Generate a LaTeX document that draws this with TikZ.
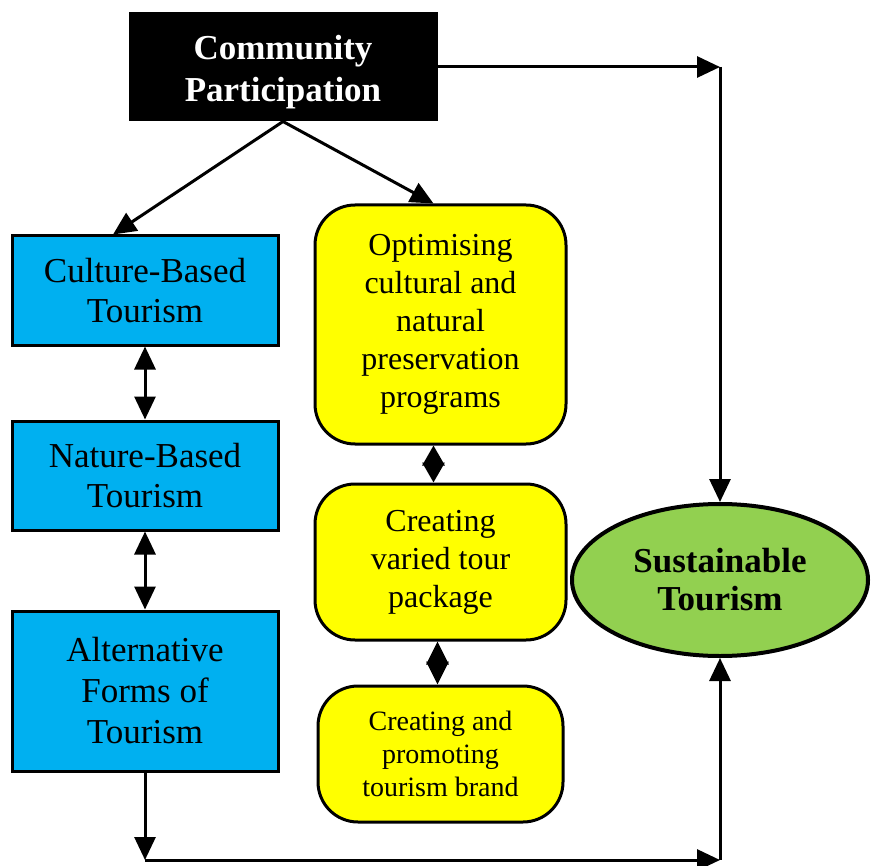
\documentclass[tikz,border=0pt]{standalone}
\usepackage{fontspec}
\setmainfont{Liberation Serif}
\usetikzlibrary{arrows.meta,shapes.geometric}
\definecolor{boxblue}{HTML}{00B0F0}
\definecolor{boxyellow}{HTML}{FFFF00}
\definecolor{ovalgreen}{HTML}{92D050}
\begin{document}
\begin{tikzpicture}[x=1pt,y=-1pt,
  line width=3pt,
  arr/.style={-{Triangle[length=23pt,width=21pt]}},
  dblarr/.style={{Triangle[length=23pt,width=21pt]}-{Triangle[length=23pt,width=21pt]}},
  diam/.style={{Triangle[length=#1,width=22pt]}-{Triangle[length=#1,width=22pt]}},
  headbox/.style={draw=black,fill=black,inner sep=0pt},
  headtext/.style={text=white,inner sep=0pt,align=center,
    font=\fontsize{35}{42}\selectfont\bfseries},
  bluebox/.style={draw=black,fill=boxblue,inner sep=0pt,align=center,
    minimum width=266pt,font=\fontsize{35}{40}\selectfont},
  yellowbox/.style={draw=black,fill=boxyellow,rounded corners=40pt,inner sep=0pt,align=center,
    font=\fontsize{32}{38}\selectfont},
  goal/.style={ellipse,draw=black,line width=4pt,fill=ovalgreen,inner sep=0pt,align=center,
    minimum width=296pt,minimum height=152pt,font=\fontsize{35}{38}\selectfont\bfseries}
]
\useasboundingbox (0,0) rectangle (880,866);

% header
\node[headbox,minimum width=306pt,minimum height=106pt,
  label={[headtext,yshift=-5pt]center:Community\\Participation}] (comm) at (283,67) {};

% left column
\node[bluebox,minimum height=109pt] (culture) at (145,290.5) {Culture-Based\\Tourism};
\node[bluebox,minimum height=109pt] (nature) at (145,475.5) {Nature-Based\\Tourism};
\node[bluebox,minimum height=160pt,font=\fontsize{35}{41}\selectfont] (alt) at (145,691)
  {Alternative\\Forms of\\Tourism};

% middle column
\node[yellowbox,minimum width=251pt,minimum height=239pt] (opt) at (440.5,324.5)
  {Optimising\\cultural and\\natural\\preservation\\programs};
\node[yellowbox,minimum width=251pt,minimum height=156pt] (tour) at (440.5,562)
  {Creating\\varied tour\\package};
\node[yellowbox,minimum width=245pt,minimum height=136pt,font=\fontsize{28}{33}\selectfont] (brand) at (440.5,754)
  {Creating and\\promoting\\tourism brand};

% goal
\node[goal] (sust) at (720,580) {Sustainable\\Tourism};

% routing points
\coordinate (tr) at (720,67);
\coordinate (bl) at (145,860);
\coordinate (br) at (720,860);

% connectors
\draw[arr] (comm.south) -- ([xshift=-32pt]culture.north);
\draw[arr] (comm.south) -- ([xshift=-7pt]opt.north);
\draw[dblarr] (culture.south) -- (nature.north);
\draw[dblarr] (nature.south) -- (alt.north);
\draw[diam=20pt] ([xshift=-7pt]opt.south) -- ([xshift=-7pt]tour.north);
\draw[diam=23pt] ([xshift=-3pt]tour.south) -- ([xshift=-3pt]brand.north);
\draw[arr] (comm.east) -- (tr);
\draw[arr] (tr) -- (sust.north);
\draw[arr] (alt.south) -- (bl);
\draw[arr] (bl) -- (br);
\draw[arr] (br) -- (sust.south);
\end{tikzpicture}
\end{document}
